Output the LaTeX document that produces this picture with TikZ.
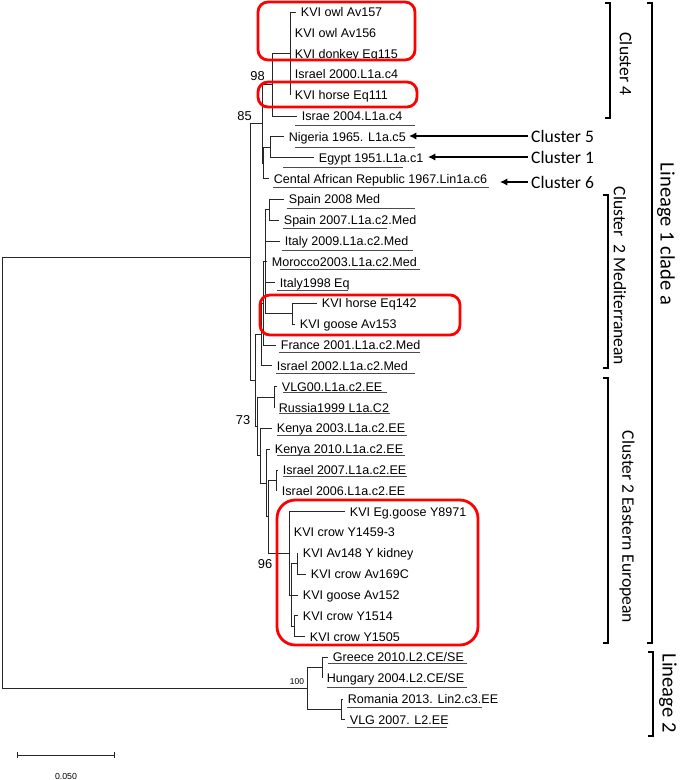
\documentclass[tikz,border=0pt]{standalone}
\usepackage{fontspec}
\setmainfont{Liberation Sans}
\newfontfamily\calibri{Carlito}
\usetikzlibrary{arrows.meta}

\begin{document}
\begin{tikzpicture}[x=0.03cm, y=-0.03cm,
    branch/.style={black!85, line width=0.7pt},
    leaf/.style={anchor=west, inner xsep=0.14cm, inner ysep=0pt,
        text height=7.6pt, text depth=0pt, font=\fontsize{10.7}{12}\selectfont},
    uline/.style={black!70, line width=0.6pt},
    boot/.style={inner sep=0pt, font=\fontsize{11}{12}\selectfont},
    kvibox/.style={red, line width=2.4pt, rounded corners=0.3cm},
    bracket/.style={black, line width=1pt},
    cluster/.style={inner sep=0pt, font=\calibri\fontsize{15}{17}\selectfont},
    lineage/.style={inner sep=0pt, rotate=-90, font=\calibri\fontsize{17.5}{20}\selectfont},
    pointer/.style={black, line width=1.1pt, shorten <=0.09cm,
        -{Latex[length=0.22cm, width=0.22cm]}}]
    \useasboundingbox (0,0) rectangle (685,780);

    % Inner nodes of the tree
    \coordinate (root) at (2,472.8);
    \coordinate (R1) at (250,257);
    \coordinate (B) at (262,123.9);
    \coordinate (N98) at (272,84.9);
    \coordinate (P4) at (290,53.6);
    \coordinate (X) at (263,163);
    \coordinate (NE) at (270,147.3);
    \coordinate (C2) at (255,380.6);
    \coordinate (M3) at (261,334.7);
    \coordinate (M2) at (263,303.5);
    \coordinate (M1) at (265,261.9);
    \coordinate (S) at (269,209.8);
    \coordinate (H) at (292,313.9);
    \coordinate (EE) at (257,426.5);
    \coordinate (VR) at (274,397.2);
    \coordinate (J) at (260,455.7);
    \coordinate (I2) at (266,483.1);
    \coordinate (I1) at (268,516.9);
    \coordinate (IS) at (276,480.5);
    \coordinate (K) at (289,553.3);
    \coordinate (K2) at (291,595);
    \coordinate (A1) at (297,563.7);
    \coordinate (A2) at (294,626.2);
    \coordinate (L2) at (307,688.6);
    \coordinate (GH) at (322,667.8);
    \coordinate (RV) at (341,709.5);

    % Leaves, lineage 1
    \node[leaf] (owlA) at (296,12) {KVI owl Av157};
    \node[leaf] (owlB) at (290,32.8) {KVI owl Av156};
    \node[leaf] (donkey) at (290,53.6) {KVI donkey Eq115};
    \node[leaf] (isr00) at (290,74.5) {Israel 2000.L1a.c4};
    \node[leaf] (horseA) at (290,95.3) {KVI horse Eq111};
    \node[leaf] (isr04) at (297,116.1) {Israe 2004.L1a.c4};
    \node[leaf] (nig) at (284,136.9) {Nigeria 1965. L1a.c5};
    \node[leaf] (egy) at (314,157.7) {Egypt 1951.L1a.c1};
    \node[leaf] (caf) at (269,178.6) {Cental African Republic 1967.Lin1a.c6};
    \node[leaf] (spa08) at (284,199.4) {Spain 2008 Med};
    \node[leaf] (spa07) at (279,220.2) {Spain 2007.L1a.c2.Med};
    \node[leaf] (ita09) at (280,241) {Italy 2009.L1a.c2.Med};
    \node[leaf] (mor03) at (267,261.8) {Morocco2003.L1a.c2.Med};
    \node[leaf] (ita98) at (275,282.7) {Italy1998 Eq};
    \node[leaf] (horseB) at (317,303.5) {KVI horse Eq142};
    \node[leaf] (gooseA) at (295,324.3) {KVI goose Av153};
    \node[leaf] (fra01) at (276,345.1) {France 2001.L1a.c2.Med};
    \node[leaf] (isr02) at (272,365.9) {Israel 2002.L1a.c2.Med};
    \node[leaf] (vlg00) at (277,386.8) {VLG00.L1a.c2.EE};
    \node[leaf] (rus99) at (274,407.6) {Russia1999 L1a.C2};
    \node[leaf] (ken03) at (272,428.4) {Kenya 2003.L1a.c2.EE};
    \node[leaf] (ken10) at (270,449.2) {Kenya 2010.L1a.c2.EE};
    \node[leaf] (isr07) at (278,470) {Israel 2007.L1a.c2.EE};
    \node[leaf] (isr06) at (277,490.9) {Israel 2006.L1a.c2.EE};
    \node[leaf] (egoose) at (345,511.7) {KVI Eg.goose Y8971};
    \node[leaf] (crowA) at (289,532.5) {KVI crow Y1459-3};
    \node[leaf] (av148) at (298,553.3) {KVI Av148 Y kidney};
    \node[leaf] (crowB) at (306,574.1) {KVI crow Av169C};
    \node[leaf] (gooseB) at (298,595) {KVI goose Av152};
    \node[leaf] (crowC) at (298,615.8) {KVI crow Y1514};
    \node[leaf] (crowD) at (305,636.6) {KVI crow Y1505};

    % Leaves, lineage 2
    \node[leaf] (gre10) at (328,657.4) {Greece 2010.L2.CE/SE};
    \node[leaf] (hun04) at (322,678.2) {Hungary 2004.L2.CE/SE};
    \node[leaf] (rom13) at (343,699) {Romania 2013. Lin2.c3.EE};
    \node[leaf] (vlg07) at (345,719.9) {VLG 2007. L2.EE};

    % Branches
    \draw[branch] (root) |- (R1) (root) |- (L2)
        (R1) |- (B) (R1) |- (C2)
        (B) |- (N98) (B) |- (X)
        (N98) |- (P4) (N98) |- (isr04.west)
        (P4) |- (owlA.west) (P4) |- (owlB.west) (P4) |- (donkey.west)
        (P4) |- (isr00.west) (P4) |- (horseA.west)
        (X) |- (NE) (X) |- (caf.west)
        (NE) |- (nig.west) (NE) |- (egy.west);
    \draw[branch] (C2) |- (M3) (C2) |- (EE)
        (M3) |- (M2) (M3) |- (isr02.west)
        (M2) |- (M1) (M2) |- (fra01.west)
        (M1) |- (S) (M1) |- (ita09.west) (M1) |- (mor03.west)
        (M1) |- (ita98.west) (M1) |- (H)
        (S) |- (spa08.west) (S) |- (spa07.west)
        (H) |- (horseB.west) (H) |- (gooseA.west);
    \draw[branch] (EE) |- (VR) (EE) |- (J)
        (VR) |- (vlg00.west) (VR) |- (rus99.west)
        (J) |- (ken03.west) (J) |- (I2)
        (I2) |- (ken10.west) (I2) |- (I1)
        (I1) |- (IS) (I1) |- (K)
        (IS) |- (isr07.west) (IS) |- (isr06.west)
        (K) |- (egoose.west) (K) |- (crowA.west) (K) |- (K2)
        (K2) |- (A1) (K2) |- (gooseB.west) (K2) |- (A2)
        (A1) |- (av148.west) (A1) |- (crowB.west)
        (A2) |- (crowC.west) (A2) |- (crowD.west);
    \draw[branch] (L2) |- (GH) (L2) |- (RV)
        (GH) |- (gre10.west) (GH) |- (hun04.west)
        (RV) |- (rom13.west) (RV) |- (vlg07.west);

    % Underlines
    \draw[uline] (295,125) -- (415,125) (295,147) -- (415,147)
        (283,167) -- (403,167) (273,187) -- (489,187)
        (287,208) -- (415,208) (283,228) -- (387,228)
        (282,250) -- (413,250) (280,269) -- (420,269)
        (277,290) -- (348,290) (279,352) -- (420,352)
        (276,373) -- (415,373) (283,392) -- (387,392)
        (279,413) -- (390,413) (277,435) -- (407,435)
        (277,455) -- (405,455) (283,476) -- (407,476)
        (328,663) -- (467,663) (327,687) -- (467,687)
        (347,707) -- (482,707) (347,727) -- (447,727);

    % Bootstrap values
    \node[boot] (b98) at (257.5,76) {98};
    \node[boot] (b85) at (244.5,116) {85};
    \node[boot] (b73) at (243,420) {73};
    \node[boot] (b96) at (265,564) {96};
    \node[boot, font=\fontsize{7.2}{8}\selectfont] (b100) at (297,682) {100};

    % KVI boxes
    \draw[kvibox] (258,2) rectangle (415,60);
    \draw[kvibox] (258,82) rectangle (417,107);
    \draw[kvibox] (260,295) rectangle (460,335);
    \draw[kvibox, rounded corners=0.55cm] (277,500) rectangle (478,645);

    % Cluster arrows
    \node[cluster, anchor=west] (cl5) at (531,136) {Cluster 5};
    \node[cluster, anchor=west] (cl1) at (531,157) {Cluster 1};
    \node[cluster, anchor=west] (cl6) at (531,182) {Cluster 6};
    \coordinate (cl5tip) at (409,136);
    \coordinate (cl1tip) at (428,157);
    \coordinate (cl6tip) at (500,182);
    \draw[pointer] (cl5.west) -- (cl5.west -| cl5tip);
    \draw[pointer] (cl1.west) -- (cl1.west -| cl1tip);
    \draw[pointer] (cl6.west) -- (cl6.west -| cl6tip);

    % Brackets
    \draw[bracket] (605,3) -- (610,3) -- (610,118) -- (605,118);
    \node[cluster, rotate=-90] (cl4) at (626,64) {Cluster 4};
    \draw[bracket] (603,195) -- (608,195) -- (608,368) -- (603,368);
    \node[cluster, rotate=-90] (cl2m) at (620,276) {Cluster\ \ 2 Mediterranean};
    \draw[bracket] (603,378) -- (608,378) -- (608,643) -- (603,643);
    \node[cluster, rotate=-90] (cl2e) at (627,527) {Cluster 2 Eastern European};
    \draw[bracket] (647,3) -- (652,3) -- (652,643) -- (647,643);
    \node[lineage] (lin1) at (666,234) {Lineage 1 clade a};
    \draw[bracket] (648,652) -- (653,652) -- (653,736) -- (648,736);
    \node[lineage] (lin2) at (668,693) {Lineage 2};

    % Scale bar
    \draw[branch] (17,752) -- (17,758) (17,755) -- (114,755) (114,752) -- (114,758);
    \node[boot, font=\fontsize{7.5}{8}\selectfont] (scale) at (66,776) {0.050};
\end{tikzpicture}
\end{document}
